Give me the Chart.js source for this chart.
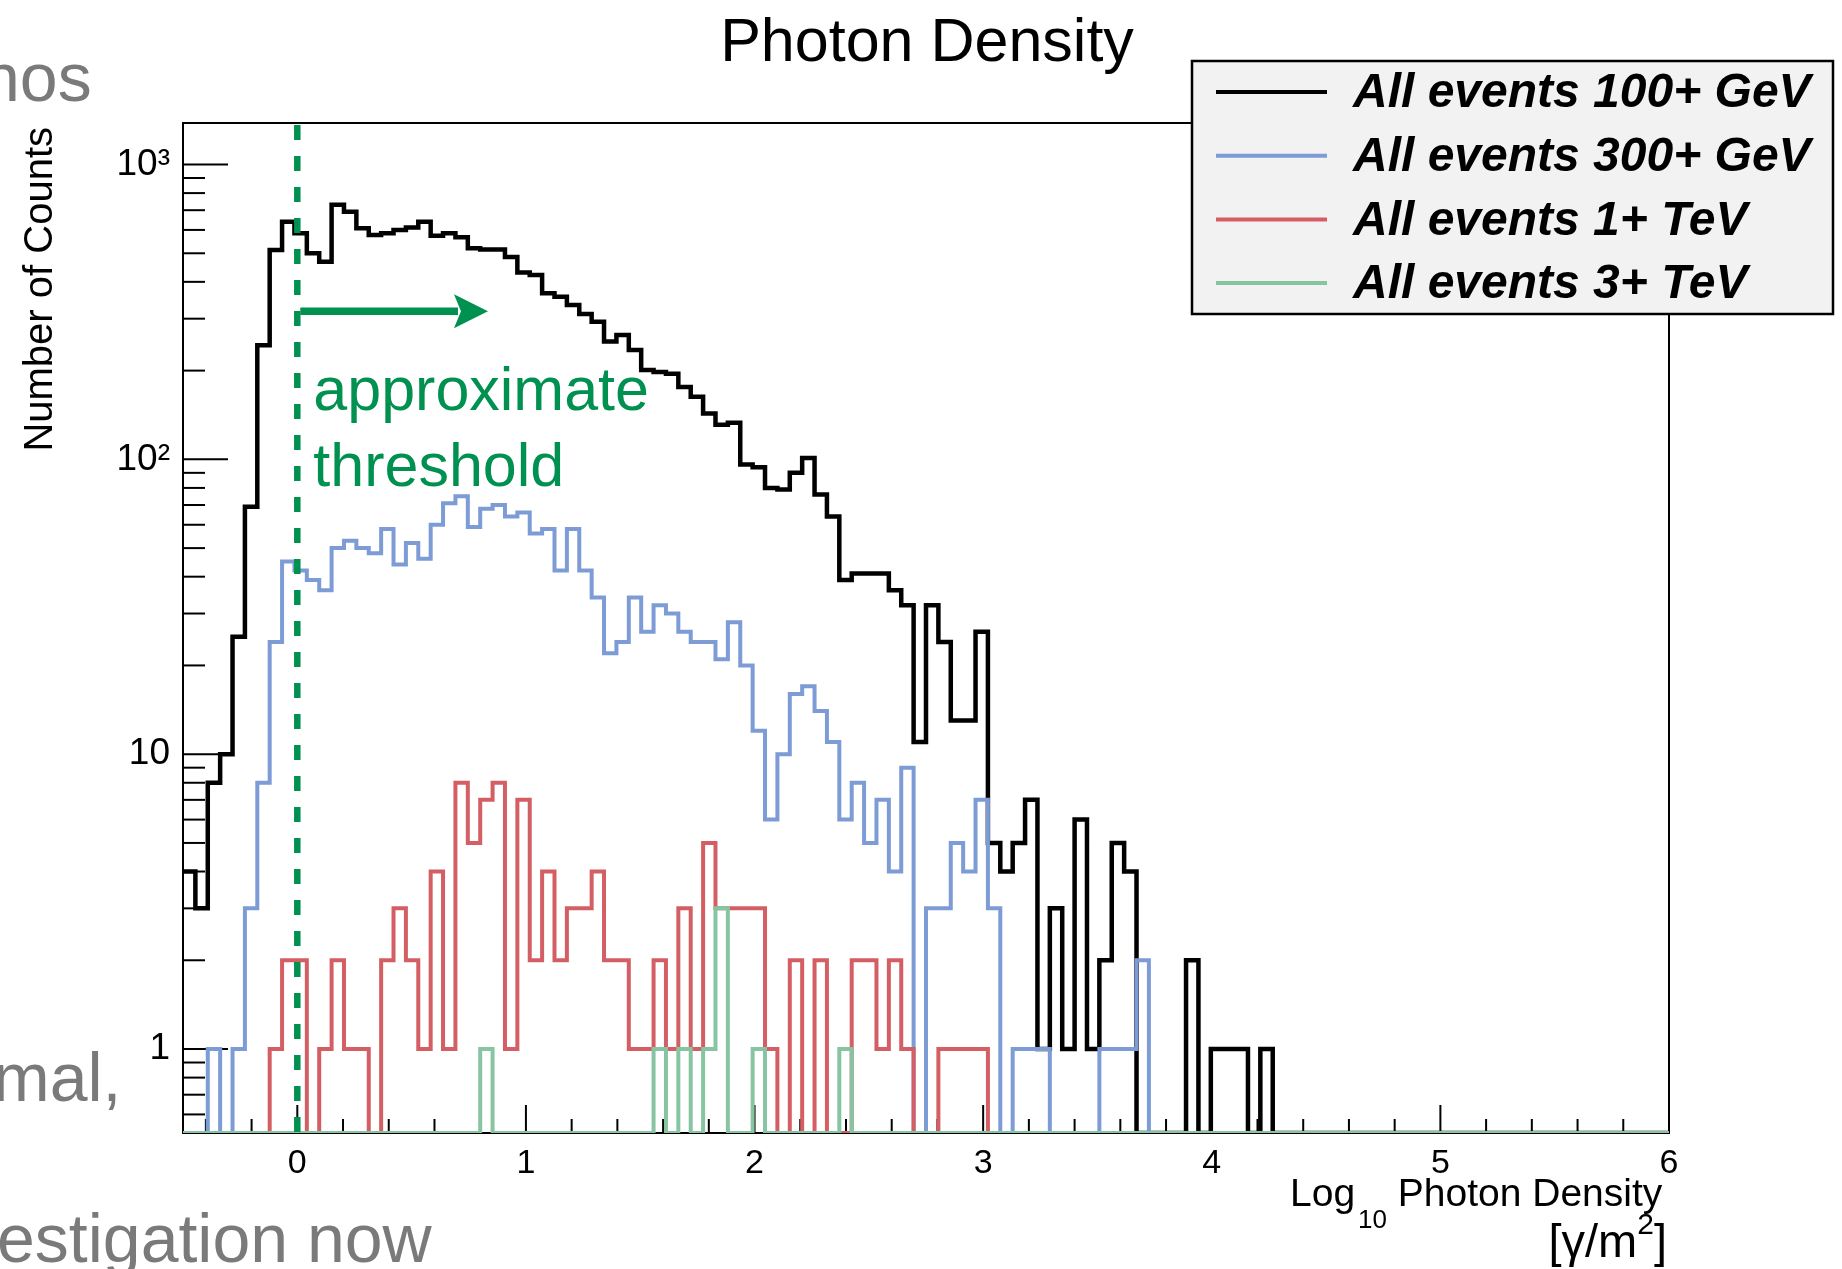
<!DOCTYPE html>
<html>
<head>
<meta charset="utf-8">
<title>Photon Density</title>
<script src="https://cdn.jsdelivr.net/npm/chart.js@4.4.1/dist/chart.umd.min.js"></script>
<style>
    html, body { margin: 0; padding: 0; background: #fff; overflow: hidden; }
    canvas { display: block; }
</style>
</head>
<body>
<canvas id="myChart" width="1842" height="1269"></canvas>
<script>
/* Histogram binning: 120 bins from -0.5 to 6 */
const binCount = 120;
const binLow = -0.5;
const binHigh = 6;

const seriesNames = ['All events 100+ GeV', 'All events 300+ GeV', 'All events 1+ TeV', 'All events 3+ TeV'];
const seriesColors = ['#000000', '#7d9bd5', '#d35f65', '#87c5a2'];
const seriesWidths = [4.5, 4, 4, 4];

// Counts per bin
const counts100GeV = [
    4, 3, 8, 10, 25, 69, 244, 513, 640, 585,
    500, 468, 730, 692, 608, 577, 585, 600, 612, 640,
    573, 585, 567, 520, 515, 515, 486, 430, 422, 366,
    356, 334, 311, 293, 251, 264, 235, 201, 198, 195,
    176, 163, 143, 131, 133, 96, 94, 80, 79, 90,
    101, 76, 64, 39, 41, 41, 41, 36, 32, 11,
    32, 24, 13, 13, 26, 5, 4, 5, 7, 1,
    3, 1, 6, 1, 2, 5, 4, 0, 0, 0,
    0, 2, 0, 1, 1, 1, 0, 1, 0, 0,
    0, 0, 0, 0, 0, 0, 0, 0, 0, 0,
    0, 0, 0, 0, 0, 0, 0, 0, 0, 0,
    0, 0, 0, 0, 0, 0, 0, 0, 0, 0
];
const counts300GeV = [
    0, 0, 1, 0, 1, 3, 8, 24, 45, 42,
    39, 36, 50, 53, 50, 48, 58, 44, 52, 46,
    60, 71, 75, 59, 68, 70, 64, 66, 56, 58,
    42, 58, 42, 34, 22, 24, 34, 26, 32, 30,
    26, 24, 24, 21, 28, 20, 12, 6, 10, 16,
    17, 14, 11, 6, 8, 5, 7, 4, 9, 0,
    3, 3, 5, 4, 7, 3, 0, 1, 1, 1,
    0, 0, 0, 0, 1, 1, 1, 2, 0, 0,
    0, 0, 0, 0, 0, 0, 0, 0, 0, 0,
    0, 0, 0, 0, 0, 0, 0, 0, 0, 0,
    0, 0, 0, 0, 0, 0, 0, 0, 0, 0,
    0, 0, 0, 0, 0, 0, 0, 0, 0, 0
];
const counts1TeV = [
    0, 0, 0, 0, 0, 0, 0, 1, 2, 2,
    0, 1, 2, 1, 1, 0, 2, 3, 2, 1,
    4, 1, 8, 5, 7, 8, 1, 7, 2, 4,
    2, 3, 3, 4, 2, 2, 1, 1, 2, 1,
    3, 1, 5, 3, 3, 3, 3, 1, 0, 2,
    0, 2, 0, 0, 2, 2, 1, 2, 1, 0,
    0, 1, 1, 1, 1, 0, 0, 0, 0, 0,
    0, 0, 0, 0, 0, 0, 0, 0, 0, 0,
    0, 0, 0, 0, 0, 0, 0, 0, 0, 0,
    0, 0, 0, 0, 0, 0, 0, 0, 0, 0,
    0, 0, 0, 0, 0, 0, 0, 0, 0, 0,
    0, 0, 0, 0, 0, 0, 0, 0, 0, 0
];
const counts3TeV = [
    0, 0, 0, 0, 0, 0, 0, 0, 0, 0,
    0, 0, 0, 0, 0, 0, 0, 0, 0, 0,
    0, 0, 0, 0, 1, 0, 0, 0, 0, 0,
    0, 0, 0, 0, 0, 0, 0, 0, 1, 0,
    1, 0, 1, 3, 0, 0, 1, 0, 0, 0,
    0, 0, 0, 1, 0, 0, 0, 0, 0, 0,
    0, 0, 0, 0, 0, 0, 0, 0, 0, 0,
    0, 0, 0, 0, 0, 0, 0, 0, 0, 0,
    0, 0, 0, 0, 0, 0, 0, 0, 0, 0,
    0, 0, 0, 0, 0, 0, 0, 0, 0, 0,
    0, 0, 0, 0, 0, 0, 0, 0, 0, 0,
    0, 0, 0, 0, 0, 0, 0, 0, 0, 0
];

// Axes
const xTickValues = [0, 1, 2, 3, 4, 5, 6];
const xTickLabels = ['0', '1', '2', '3', '4', '5', '6'];
const yLabelValues = [1, 10, 100, 1000];
const yTickLabels = ['1', '10', '10²', '10³'];
const yMin = 0.519;
const yMax = 1383;

// Threshold annotation
const thresholdX = 0;
const arrowEndX = 0.834;
const arrowY = 318;

const fontFamily = '"Liberation Sans", Arial, Helvetica, sans-serif';
const green = '#009150';

// Build step points (left bin edges + closing right edge); empty bins sit on the axis floor
function histPoints(counts) {
    const width = (binHigh - binLow) / binCount;
    const pts = counts.map((c, i) => ({ x: binLow + i * width, y: c > 0 ? c : yMin }));
    pts.push({ x: binHigh, y: pts[pts.length - 1].y });
    return pts;
}

function minorYTicks() {
    const list = [];
    [0.1, 1, 10, 100].forEach((d) => {
        for (let m = 1; m <= 9; m++) {
            const v = Number((m * d).toPrecision(3));
            if (v >= yMin && v <= yMax) list.push(v);
        }
    });
    list.push(1000);
    return list;
}

function minorXTicks() {
    const list = [];
    for (let i = -2; i < 30; i++) {
        const v = Number((i * 0.2).toFixed(1));
        if (v > binLow && v < binHigh) list.push(v);
    }
    return list;
}

function line(ctx, x1, y1, x2, y2) {
    ctx.beginPath();
    ctx.moveTo(x1, y1);
    ctx.lineTo(x2, y2);
    ctx.stroke();
}

const photonPlot = {
    id: 'photonPlot',
    beforeDatasetsDraw(chart) {
        const { ctx, chartArea: a, scales: { x, y } } = chart;
        ctx.save();
        ctx.strokeStyle = '#000';
        ctx.lineWidth = 2;
        ctx.strokeRect(a.left, a.top, a.right - a.left, a.bottom - a.top);
        // inward tick marks, ROOT style
        minorYTicks().forEach((v) => {
            const py = y.getPixelForValue(v);
            const len = yLabelValues.includes(v) ? 45 : 22;
            line(ctx, a.left, py, a.left + len, py);
        });
        minorXTicks().forEach((v) => {
            const px = x.getPixelForValue(v);
            const len = Number.isInteger(v) ? 28 : 14;
            line(ctx, px, a.bottom, px, a.bottom - len);
        });
        ctx.restore();
    },
    afterDatasetsDraw(chart) {
        const { ctx, chartArea: a, scales: { x, y } } = chart;
        ctx.save();
        // dashed threshold line
        const tx = x.getPixelForValue(thresholdX);
        ctx.strokeStyle = green;
        ctx.lineWidth = 6.5;
        ctx.setLineDash([15, 16]);
        line(ctx, tx, a.top + 2, tx, a.bottom);
        ctx.setLineDash([]);
        // arrow
        const ay = y.getPixelForValue(arrowY);
        const tip = x.getPixelForValue(arrowEndX);
        ctx.lineWidth = 7.5;
        line(ctx, tx + 3, ay, tip - 30, ay);
        ctx.fillStyle = green;
        ctx.beginPath();
        ctx.moveTo(tip, ay);
        ctx.lineTo(tip - 34, ay - 17);
        ctx.lineTo(tip - 27, ay);
        ctx.lineTo(tip - 34, ay + 17);
        ctx.closePath();
        ctx.fill();
        // label
        ctx.font = '61px ' + fontFamily;
        ctx.textAlign = 'left';
        ctx.textBaseline = 'alphabetic';
        ctx.fillText('approximate', tx + 16, ay + 99);
        ctx.fillText('threshold', tx + 16, ay + 175);
        ctx.restore();
    },
    afterDraw(chart) {
        const { ctx, chartArea: a } = chart;
        ctx.save();
        ctx.fillStyle = '#000';
        // title
        ctx.font = '61px ' + fontFamily;
        ctx.textAlign = 'center';
        ctx.textBaseline = 'alphabetic';
        ctx.fillText('Photon Density', (a.left + a.right) / 2 + 1, 61);
        // y title
        ctx.save();
        ctx.translate(52, 127);
        ctx.rotate(-Math.PI / 2);
        ctx.font = '40px ' + fontFamily;
        ctx.textAlign = 'right';
        ctx.fillText('Number of Counts', 0, 0);
        ctx.restore();
        // x title
        ctx.textAlign = 'left';
        ctx.font = '39px ' + fontFamily;
        ctx.fillText('Log', 1290, 1206);
        let w = ctx.measureText('Log').width;
        ctx.font = '26px ' + fontFamily;
        ctx.fillText('10', 1290 + w + 3, 1228);
        w += ctx.measureText('10').width + 3;
        ctx.font = '39px ' + fontFamily;
        ctx.fillText(' Photon Density', 1290 + w, 1206);
        // second line: [γ/m²] with a real raised 2
        ctx.font = '47px ' + fontFamily;
        const closeW = ctx.measureText(']').width;
        ctx.fillText(']', a.right - 2 - closeW, 1257);
        ctx.font = '30px ' + fontFamily;
        const supW = ctx.measureText('2').width;
        ctx.fillText('2', a.right - 2 - closeW - supW, 1234);
        ctx.font = '47px ' + fontFamily;
        const mainW = ctx.measureText('[γ/m').width;
        ctx.fillText('[γ/m', a.right - 2 - closeW - supW - mainW, 1257);

        // legend
        const box = { left: 1192, top: 61, right: 1833, bottom: 314 };
        ctx.fillStyle = '#f2f2f2';
        ctx.fillRect(box.left, box.top, box.right - box.left, box.bottom - box.top);
        ctx.strokeStyle = '#000';
        ctx.lineWidth = 2.5;
        ctx.strokeRect(box.left, box.top, box.right - box.left, box.bottom - box.top);
        ctx.font = 'italic bold 48px ' + fontFamily;
        ctx.textAlign = 'left';
        ctx.textBaseline = 'middle';
        seriesNames.forEach((name, i) => {
            const ry = 92 + i * 63.7;
            ctx.strokeStyle = seriesColors[i];
            ctx.lineWidth = 4;
            line(ctx, 1216, ry, 1327, ry);
            ctx.fillStyle = '#000';
            ctx.fillText(name, 1353, ry + 2);
        });

        // slide text behind the plot
        ctx.fillStyle = '#7a7a7a';
        ctx.font = '68px ' + fontFamily;
        ctx.textBaseline = 'alphabetic';
        ctx.fillText('nos', -18, 101);
        ctx.fillText('mal,', -7, 1101);
        ctx.fillText('estigation now', -3, 1262);
        ctx.restore();
    }
};

const ctx = document.getElementById('myChart').getContext('2d');
const countSeries = [counts100GeV, counts300GeV, counts1TeV, counts3TeV];

const chart = new Chart(ctx, {
    type: 'line',
    data: {
        datasets: countSeries.map((counts, i) => ({
            label: seriesNames[i],
            data: histPoints(counts),
            borderColor: seriesColors[i],
            borderWidth: seriesWidths[i],
            stepped: 'before',
            fill: false,
            pointRadius: 0,
            borderJoinStyle: 'miter',
            borderCapStyle: 'butt',
            order: countSeries.length - i
        }))
    },
    options: {
        responsive: false,
        animation: false,
        layout: { padding: { left: 0, right: 173, top: 123, bottom: 0 } },
        plugins: {
            legend: { display: false },
            tooltip: { enabled: false },
            title: { display: false }
        },
        scales: {
            x: {
                type: 'linear',
                min: binLow,
                max: binHigh,
                grid: { display: false, drawTicks: false },
                border: { display: false },
                afterBuildTicks: (s) => { s.ticks = xTickValues.map((v) => ({ value: v })); },
                afterFit: (s) => { s.height = 136; s.paddingLeft = 0; s.paddingRight = 0; },
                ticks: {
                    autoSkip: false,
                    maxRotation: 0,
                    padding: 10,
                    color: '#000',
                    font: { family: fontFamily, size: 34 },
                    callback: (v) => xTickLabels[xTickValues.indexOf(v)]
                }
            },
            y: {
                type: 'logarithmic',
                min: yMin,
                max: yMax,
                grid: { display: false, drawTicks: false },
                border: { display: false },
                afterBuildTicks: (s) => { s.ticks = yLabelValues.map((v) => ({ value: v })); },
                afterFit: (s) => { s.width = 183; s.paddingTop = 0; s.paddingBottom = 0; },
                ticks: {
                    autoSkip: false,
                    padding: 13,
                    color: '#000',
                    font: { family: fontFamily, size: 37 },
                    callback: (v) => yTickLabels[yLabelValues.indexOf(v)]
                }
            }
        }
    },
    plugins: [photonPlot]
});
</script>
</body>
</html>
